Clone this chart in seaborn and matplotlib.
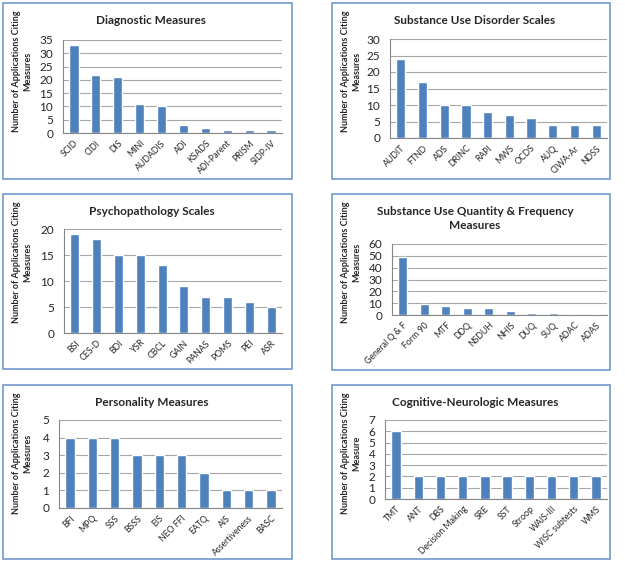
import pandas as pd
import seaborn as sns
import matplotlib
matplotlib.use("Agg")
import matplotlib.pyplot as plt
from matplotlib.patches import Rectangle

# data
diag_labels = ["SCID", "CIDI", "DIS", "MINI", "AUDADIS", "ADI", "KSADS", "ADI-Parent", "PRISM", "SIDP-IV"]
diag_values = [33, 22, 21, 11, 10, 3, 2, 1, 1, 1]

sud_labels = ["AUDIT", "FTND", "ADS", "DRINC", "RAPI", "MWS", "OCDS", "AUQ", "CIWA-Ar", "NDSS"]
sud_values = [24, 17, 10, 10, 8, 7, 6, 4, 4, 4]

psych_labels = ["BSI", "CES-D", "BDI", "YSR", "CBCL", "GAIN", "PANAS", "POMS", "PEI", "ASR"]
psych_values = [19, 18, 15, 15, 13, 9, 7, 7, 6, 5]

qf_labels = ["General Q & F", "Form 90", "MTF", "DDQ", "NSDUH", "NHIS", "DUQ", "SUQ", "ADAC", "ADAS"]
qf_values = [49, 9, 8, 6, 6, 3, 2, 2, 1, 1]

pers_labels = ["BFI", "MPQ", "SSS", "BSSS", "EIS", "NEO FFI", "EATQ", "AIS", "Assertiveness", "BASC"]
pers_values = [4, 4, 4, 3, 3, 3, 2, 1, 1, 1]

cog_labels = ["TMT", "ANT", "DBS", "Decision Making", "SRE", "SST", "Stroop", "WAIS-III", "WISC subtests", "WMS"]
cog_values = [6, 2, 2, 2, 2, 2, 2, 2, 2, 2]

sns.set_style("white")
plt.rcParams["font.family"] = ["Lato", "DejaVu Sans"]

W, H = 625, 565
fig = plt.figure(figsize=(6.25, 5.65), dpi=100)

BLUE = "#4F81BD"
GRID = "#A6A6A6"

# (labels, values, title, ylabel, ymax, step, box px, axes px)
panels = [
    (diag_labels, diag_values, "Diagnostic Measures", "Measures", 35, 5,
     (3, 3, 292, 179), (63, 40, 282, 133)),
    (sud_labels, sud_values, "Substance Use Disorder Scales", "Measures", 30, 5,
     (332, 3, 610, 179), (390, 39, 607, 138)),
    (psych_labels, psych_values, "Psychopathology Scales", "Measures", 20, 5,
     (3, 194, 292, 369), (64, 229, 282, 333)),
    (qf_labels, qf_values, "Substance Use Quantity & Frequency\nMeasures", "Measures", 60, 10,
     (332, 194, 610, 370), (392, 244, 607, 315)),
    (pers_labels, pers_values, "Personality Measures", "Measures", 5, 1,
     (3, 385, 292, 559), (59, 420, 282, 508)),
    (cog_labels, cog_values, "Cognitive-Neurologic Measures", "Measure", 7, 1,
     (332, 385, 610, 559), (385, 420, 607, 499)),
]

for labels, values, title, ylab2, ymax, step, box, axp in panels:
    bx0, by0, bx1, by1 = box
    fig.patches.append(Rectangle((bx0 / W, 1 - by1 / H), (bx1 - bx0) / W, (by1 - by0) / H,
                                 transform=fig.transFigure, fill=False,
                                 edgecolor="#6F9AD0", linewidth=1.2))
    x0, y0, x1, y1 = axp
    ax = fig.add_axes([x0 / W, 1 - y1 / H, (x1 - x0) / W, (y1 - y0) / H])
    df = pd.DataFrame({"measure": labels, "count": values})
    sns.barplot(data=df, x="measure", y="count", color=BLUE, width=0.42,
                saturation=1, ax=ax)
    ax.set_ylim(0, ymax)
    ax.set_yticks(range(0, ymax + 1, step))
    ax.set_xlim(-0.5, len(labels) - 0.5)
    ax.yaxis.grid(True, color=GRID, linewidth=0.8)
    ax.set_axisbelow(True)
    for s in ["top", "right"]:
        ax.spines[s].set_visible(False)
    ax.spines["left"].set_color("#868686")
    ax.spines["bottom"].set_color("#868686")
    ax.spines["left"].set_linewidth(0.8)
    ax.spines["bottom"].set_linewidth(0.8)
    ax.set_xticks(range(len(labels)))
    ax.set_xticklabels(labels, rotation=45, ha="right", rotation_mode="anchor", fontsize=6.3)
    ax.set_xticks([i - 0.5 for i in range(len(labels) + 1)], minor=True)
    ax.tick_params(axis="x", which="major", length=0, pad=4)
    ax.tick_params(axis="x", which="minor", length=3, color="#868686", width=0.8)
    ax.tick_params(axis="y", length=3, color="#868686", width=0.8, labelsize=8.5, pad=4)
    ax.set_xlabel("")
    ax.set_ylabel("")
    cx = (bx0 + bx1) / 2 + 4
    ty = by0 + 12
    fig.text(cx / W, 1 - ty / H, title, ha="center", va="top", fontsize=8.5,
             fontweight="bold", linespacing=1.3)
    fig.text((bx0 + 19) / W, 1 - (by0 + 68) / H,
             "Number of Applications Citing\n" + ylab2, rotation=90, ha="center",
             va="center", fontsize=6.5, fontweight="bold", linespacing=1.4)

fig.savefig("out.png", dpi=100)
